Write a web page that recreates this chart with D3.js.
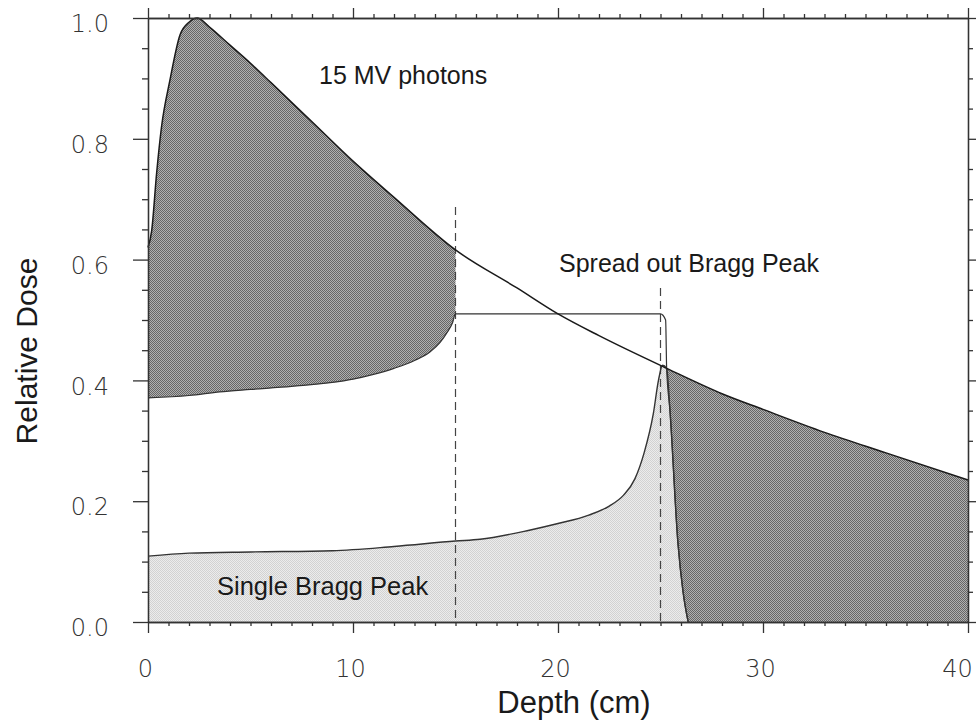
<!DOCTYPE html>
<html><head><meta charset="utf-8">
<script src="https://cdn.jsdelivr.net/npm/d3@7"></script>
<style>body{margin:0;background:#fff}</style>
</head><body>
<svg id="chart" width="976" height="724"></svg>
<script>
// ---- data ----
const photonDepth = [0, 0.18, 0.42, 0.66, 1.07, 1.56, 2.0, 2.4, 3, 4, 5, 6, 8, 10, 12, 15, 18, 20, 22, 25.3, 28, 30, 33, 36, 40];
const photonDose  = [0.62, 0.648, 0.743, 0.82, 0.897, 0.972, 0.993, 1.0, 0.985, 0.955, 0.925, 0.893, 0.828, 0.763, 0.703, 0.616, 0.553, 0.51, 0.474, 0.42, 0.378, 0.352, 0.314, 0.28, 0.235];

const sobpDepth = [0, 2, 3.5, 5, 7, 10, 11, 12, 13, 13.75, 14.25, 14.6, 14.85, 15, 20, 25.0, 25.25, 25.3, 25.46, 25.85, 26.1, 26.35];
const sobpDose  = [0.371, 0.375, 0.381, 0.385, 0.39, 0.402, 0.41, 0.42, 0.433, 0.447, 0.463, 0.48, 0.495, 0.51, 0.51, 0.51, 0.50, 0.42, 0.351, 0.131, 0.05, 0.0];

const braggDepth = [0, 2, 5, 9, 12, 15, 16.2, 18.6, 20, 21.5, 22.5, 23.2, 23.75, 24.2, 24.65, 24.9, 25.1, 25.3, 25.46, 25.85, 26.1, 26.35];
const braggDose  = [0.109, 0.114, 0.116, 0.118, 0.125, 0.134, 0.137, 0.152, 0.163, 0.177, 0.192, 0.21, 0.237, 0.28, 0.345, 0.40, 0.425, 0.42, 0.351, 0.131, 0.05, 0.0];

const markerDepths = [15, 25];
const markerTops   = [0.687, 0.553];

const xTicks = [0, 10, 20, 30, 40];
const xTickLabels = ["0", "10", "20", "30", "40"];
const yTicks = [0.0, 0.2, 0.4, 0.6, 0.8, 1.0];
const yTickLabels = ["0.0", "0.2", "0.4", "0.6", "0.8", "1.0"];

const xTitle = "Depth (cm)";
const yTitle = "Relative Dose";
const labelPhoton = "15 MV photons";
const labelSOBP = "Spread out Bragg Peak";
const labelSingle = "Single Bragg Peak";

// ---- layout ----
const svg = d3.select("#chart");
const x = d3.scaleLinear().domain([0, 40]).range([148, 968]);
const y = d3.scaleLinear().domain([0, 1]).range([622, 18]);

const photon = photonDepth.map((d, i) => ({x: d, y: photonDose[i]}));
const sobp = sobpDepth.map((d, i) => ({x: d, y: sobpDose[i]}));
const bragg = braggDepth.map((d, i) => ({x: d, y: braggDose[i]}));

const defs = svg.append("defs");
const pd = defs.append("pattern").attr("id", "darkPat").attr("patternUnits", "userSpaceOnUse")
  .attr("width", 2).attr("height", 2);
pd.append("rect").attr("width", 2).attr("height", 2).attr("fill", "#b0b0b0");
pd.append("rect").attr("width", 1).attr("height", 1).attr("fill", "#666");
pd.append("rect").attr("x", 1).attr("y", 1).attr("width", 1).attr("height", 1).attr("fill", "#666");
const pl = defs.append("pattern").attr("id", "lightPat").attr("patternUnits", "userSpaceOnUse")
  .attr("width", 2).attr("height", 2);
pl.append("rect").attr("width", 2).attr("height", 2).attr("fill", "#ececec");
pl.append("rect").attr("width", 1).attr("height", 1).attr("fill", "#d2d2d2");
pl.append("rect").attr("x", 1).attr("y", 1).attr("width", 1).attr("height", 1).attr("fill", "#d2d2d2");

const clip = defs.append("clipPath").attr("id", "darkClip");
clip.append("rect").attr("x", x(0)).attr("y", y(1.05)).attr("width", x(markerDepths[0]) - x(0)).attr("height", y(0) - y(1.05));
clip.append("rect").attr("x", x(markerDepths[1])).attr("y", y(1.05)).attr("width", x(40) - x(markerDepths[1])).attr("height", y(0) - y(1.05));

const curve = d3.curveMonotoneX;
const area = d3.area().x(d => x(d.x)).y0(y(0)).y1(d => y(d.y)).curve(curve);
const line = d3.line().x(d => x(d.x)).y(d => y(d.y)).curve(curve);

// dark photon excess
svg.append("path").attr("d", area(photon)).attr("fill", "url(#darkPat)").attr("clip-path", "url(#darkClip)");
// white under SOBP
svg.append("path").attr("d", area(sobp)).attr("fill", "#fff");
// light single Bragg peak
svg.append("path").attr("d", area(bragg)).attr("fill", "url(#lightPat)");

// dashed markers
svg.selectAll(".marker").data(markerDepths).enter().append("line")
  .attr("x1", d => x(d)).attr("x2", d => x(d))
  .attr("y1", (d, i) => y(markerTops[i])).attr("y2", y(0))
  .attr("stroke", "#444").attr("stroke-width", 1.2).attr("stroke-dasharray", "8,5");

// curves
svg.append("path").attr("d", line(bragg)).attr("fill", "none").attr("stroke", "#333").attr("stroke-width", 1.4);
svg.append("path").attr("d", line(sobp)).attr("fill", "none").attr("stroke", "#333").attr("stroke-width", 1.2);
svg.append("path").attr("d", line(photon)).attr("fill", "none").attr("stroke", "#1a1a1a").attr("stroke-width", 1.5);

// axes
const minorX = d3.range(0, 41, 1).filter(v => v % 10 !== 0);
const minorY = d3.range(0, 1.001, 0.05).map(v => +v.toFixed(2)).filter(v => Math.round(v * 100) % 20 !== 0);

function styleAxis(g) {
  g.selectAll("path, line").attr("stroke", "#333").attr("stroke-width", 1.3);
}
const tickFont = "'DejaVu Sans', sans-serif";

// left
const gl = svg.append("g").attr("transform", `translate(${x(0)},0)`)
  .call(d3.axisLeft(y).tickValues(yTicks).tickFormat((d, i) => yTickLabels[i]).tickSize(15).tickSizeOuter(0).tickPadding(24));
gl.call(styleAxis);
gl.selectAll("text").attr("font-family", tickFont).attr("font-weight", 200).attr("font-size", 24).attr("fill", "#333").attr("dy", "0.57em");
svg.append("g").attr("transform", `translate(${x(0)},0)`)
  .call(d3.axisLeft(y).tickValues(minorY).tickFormat("").tickSize(6).tickSizeOuter(0)).call(styleAxis);
// right
svg.append("g").attr("transform", `translate(${x(40)},0)`)
  .call(d3.axisRight(y).tickValues(yTicks).tickFormat("").tickSize(8).tickSizeOuter(0)).call(styleAxis);
svg.append("g").attr("transform", `translate(${x(40)},0)`)
  .call(d3.axisRight(y).tickValues(minorY).tickFormat("").tickSize(5).tickSizeOuter(0)).call(styleAxis);
// bottom
const gb = svg.append("g").attr("transform", `translate(0,${y(0)})`)
  .call(d3.axisBottom(x).tickValues(xTicks).tickFormat((d, i) => xTickLabels[i]).tickSize(11).tickSizeOuter(0).tickPadding(27));
gb.call(styleAxis);
gb.selectAll("text").attr("font-family", tickFont).attr("font-weight", 200).attr("font-size", 24).attr("fill", "#333")
  .attr("dx", (d, i) => i === xTicks.length - 1 ? -11 : -3);
svg.append("g").attr("transform", `translate(0,${y(0)})`)
  .call(d3.axisBottom(x).tickValues(minorX).tickFormat("").tickSize(4).tickSizeOuter(0)).call(styleAxis);
// top
svg.append("g").attr("transform", `translate(0,${y(1)})`)
  .call(d3.axisTop(x).tickValues(xTicks).tickFormat("").tickSize(10).tickSizeOuter(0)).call(styleAxis);
svg.append("g").attr("transform", `translate(0,${y(1)})`)
  .call(d3.axisTop(x).tickValues(minorX).tickFormat("").tickSize(4).tickSizeOuter(0)).call(styleAxis);

// titles
const titleFont = "'Liberation Sans', Arial, sans-serif";
svg.append("text").attr("x", 574).attr("y", 713).attr("text-anchor", "middle")
  .attr("font-family", titleFont).attr("font-size", 31).attr("fill", "#1a1a1a").text(xTitle);
svg.append("text").attr("transform", "translate(37,351) rotate(-90)").attr("text-anchor", "middle")
  .attr("font-family", titleFont).attr("font-size", 30).attr("fill", "#1a1a1a").text(yTitle);

// annotations
svg.append("text").attr("x", 319).attr("y", 84).attr("font-family", titleFont).attr("font-size", 25).attr("fill", "#1a1a1a").text(labelPhoton);
svg.append("text").attr("x", 559).attr("y", 272).attr("font-family", titleFont).attr("font-size", 25).attr("fill", "#1a1a1a").text(labelSOBP);
svg.append("text").attr("x", 217).attr("y", 595).attr("font-family", titleFont).attr("font-size", 25.5).attr("fill", "#1a1a1a").text(labelSingle);
</script>
</body></html>
